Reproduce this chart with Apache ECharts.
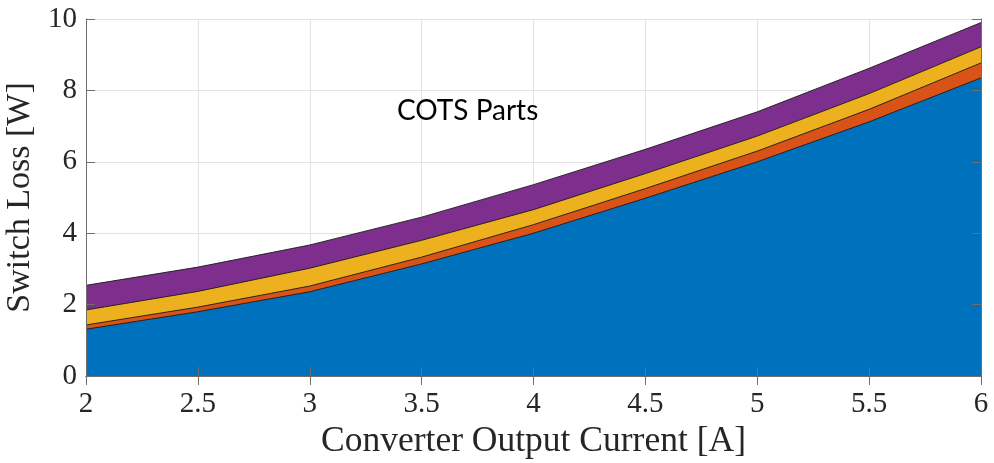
<!DOCTYPE html>
<html>
<head>
<meta charset="utf-8">
<script src="https://cdn.jsdelivr.net/npm/echarts@6/dist/echarts.min.js"></script>
<style>
html,body{margin:0;padding:0;background:#fff;}
#chart{width:994px;height:463px;}
</style>
</head>
<body>
<div id="chart"></div>
<script>
const currents = [2, 2.5, 3, 3.5, 4, 4.5, 5, 5.5, 6];
const layerBlue   = [1.31, 1.80, 2.36, 3.14, 4.00, 4.98, 6.00, 7.12, 8.35];
const layerOrange = [0.12, 0.13, 0.16, 0.19, 0.24, 0.27, 0.30, 0.35, 0.42];
const layerYellow = [0.42, 0.44, 0.50, 0.47, 0.42, 0.42, 0.42, 0.44, 0.45];
const layerPurple = [0.69, 0.68, 0.65, 0.65, 0.70, 0.68, 0.68, 0.71, 0.68];
const xTicks = [2, 2.5, 3, 3.5, 4, 4.5, 5, 5.5, 6];
const yTicks = [0, 2, 4, 6, 8, 10];
const annotation = 'COTS Parts';

const serif = '"Liberation Serif", "DejaVu Serif", serif';
const axisCol = '#6e6e6e';
const textCol = '#262626';

// stack layers manually (bottom to top)
const layers = [
  {name:'Blue',   vals:layerBlue,   color:'#0072BD'},
  {name:'Orange', vals:layerOrange, color:'#D95319'},
  {name:'Yellow', vals:layerYellow, color:'#EDB120'},
  {name:'Purple', vals:layerPurple, color:'#7E2F8E'}
];
let running = currents.map(()=>0);
const cumul = layers.map(l => {
  running = running.map((r,i)=>r + l.vals[i]);
  return {name:l.name, color:l.color, data:currents.map((x,i)=>[x, +running[i].toFixed(4)])};
});
// draw top layer first so lower layers cover it
const seriesList = cumul.slice().reverse().map(c => ({
  name:c.name, type:'line', data:c.data,
  showSymbol:false, symbol:'none', smooth:false,
  lineStyle:{color:'#1a1a1a', width:0.9},
  areaStyle:{color:c.color, opacity:1, origin:'start'},
  xAxisIndex:0, yAxisIndex:0, z:2
}));

const chart = echarts.init(document.getElementById('chart'), null, {renderer:'canvas'});
const xCommon = {type:'value', min:2, max:6, interval:0.5};
const yCommon = {type:'value', min:0, max:10, interval:2};
chart.setOption({
  animation:false,
  grid:{left:86, right:13, top:19, bottom:87, containLabel:false, outerBoundsMode:'none'},
  xAxis:[
    Object.assign({}, xCommon, {
      position:'bottom', z:5,
      name:'Converter Output Current [A]', nameLocation:'middle', nameGap:44,
      nameTextStyle:{fontFamily:serif, fontSize:35.5, color:textCol},
      axisLine:{show:true, lineStyle:{color:axisCol, width:1}},
      axisTick:{show:true, inside:true, length:9, lineStyle:{color:axisCol}},
      axisLabel:{show:true, fontFamily:serif, fontSize:29, color:textCol, margin:14,
        formatter: v => xTicks.includes(v) ? String(v) : ''},
      splitLine:{show:false}
    }),
    Object.assign({}, xCommon, {
      position:'top', z:0,
      axisLine:{show:true, lineStyle:{color:axisCol, width:1}},
      axisTick:{show:true, inside:true, length:9, lineStyle:{color:axisCol}},
      axisLabel:{show:false},
      splitLine:{show:true, lineStyle:{color:'#e3e3e3', width:1}}
    })
  ],
  yAxis:[
    Object.assign({}, yCommon, {
      position:'left', z:5,
      name:'Switch Loss [W]', nameLocation:'middle', nameGap:46,
      nameTextStyle:{fontFamily:serif, fontSize:34, color:textCol},
      axisLine:{show:true, lineStyle:{color:axisCol, width:1}},
      axisTick:{show:true, inside:true, length:9, lineStyle:{color:axisCol}},
      axisLabel:{show:true, fontFamily:serif, fontSize:29, color:textCol, margin:9,
        formatter: v => yTicks.includes(v) ? String(v) : ''},
      splitLine:{show:false}
    }),
    Object.assign({}, yCommon, {
      position:'right', z:5,
      axisLine:{show:true, lineStyle:{color:axisCol, width:1}},
      axisTick:{show:true, inside:true, length:9, lineStyle:{color:axisCol}},
      axisLabel:{show:false},
      splitLine:{show:false}
    }),
    Object.assign({}, yCommon, {
      position:'left', z:0,
      axisLine:{show:false}, axisTick:{show:false}, axisLabel:{show:false},
      splitLine:{show:true, lineStyle:{color:'#e3e3e3', width:1}}
    })
  ],
  series:seriesList,
  graphic:[{
    type:'text', left:397, top:97, z:10,
    style:{text:annotation, fontFamily:'Lato, "Open Sans", sans-serif', fontSize:28, fill:'#000'}
  }]
});
</script>
</body>
</html>
